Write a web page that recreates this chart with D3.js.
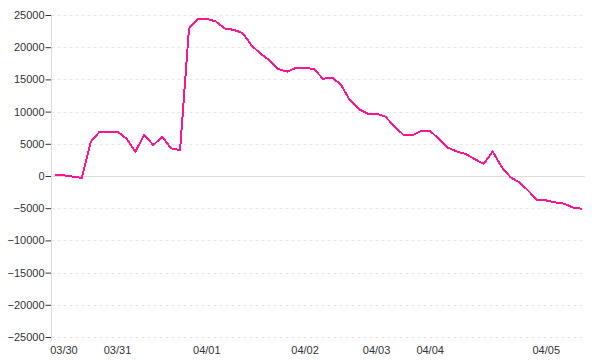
<!DOCTYPE html>
<html>
<head>
<meta charset="utf-8">
<script src="https://cdn.jsdelivr.net/npm/d3@7"></script>
<style>
  html, body { margin: 0; padding: 0; background: #fff; }
  #chart { width: 600px; height: 360px; }
</style>
</head>
<body>
<div id="chart"></div>
<script>
// Values per sample point (left to right)
const values = [
    100, 100, -100, -300, 5300, 6900, 6900, 6900, 5800, 3800,
    6400, 4800, 6100, 4300, 4000, 22900, 24400, 24400, 24000, 22900,
    22700, 22200, 20300, 19000, 18000, 16600, 16200, 16800, 16800, 16600,
    15100, 15300, 14200, 11800, 10400, 9700, 9700, 9200, 7700, 6400,
    6300, 7000, 7000, 5700, 4400, 3800, 3400, 2600, 1900, 3800,
    1400, -200, -1000, -2300, -3800, -3800, -4100, -4300, -4900, -5100
];

// Date labels and the sample index where each date starts
const dateLabels = ['03/30', '03/31', '04/01', '04/02', '04/03', '04/04', '04/05'];
const dateIndex = [1, 7, 17, 28, 36, 42, 55];

const yTicks = [25000, 20000, 15000, 10000, 5000, 0, -5000, -10000, -15000, -20000, -25000];

const config = {
    width: 600,
    height: 360,
    axisX: 51.5,
    plotLeft: 55,
    plotRight: 582,
    gridRight: 585,
    lineColor: '#ff1493',
    textColor: '#333'
};

const svg = d3.select('#chart')
    .append('svg')
    .attr('width', config.width)
    .attr('height', config.height)
    .style('font-family', '"Liberation Sans", Arial, sans-serif')
    .style('font-size', '11px');

const xScale = d3.scaleLinear()
    .domain([0, values.length - 1])
    .range([config.plotLeft, config.plotRight]);

const yScale = d3.scaleLinear()
    .domain([-25000, 25000])
    .range([337, 15]);

// Grid lines
svg.append('g')
    .selectAll('line')
    .data(yTicks)
    .enter().append('line')
    .attr('x1', config.axisX)
    .attr('x2', config.gridRight)
    .attr('y1', d => Math.round(yScale(d)) + 0.5)
    .attr('y2', d => Math.round(yScale(d)) + 0.5)
    .style('stroke', d => d === 0 ? '#dcdcdc' : '#e6e6e6')
    .style('stroke-dasharray', d => d === 0 ? null : '3,3')
    .style('stroke-width', 1);

// Y axis
const yAxis = svg.append('g')
    .attr('transform', `translate(${config.axisX},0)`)
    .call(d3.axisLeft(yScale).tickValues(yTicks).tickSize(6).tickPadding(1).tickFormat(d3.format('d')));

yAxis.select('.domain').remove();
yAxis.selectAll('.tick line').style('stroke', '#333');
yAxis.selectAll('.tick text')
    .style('fill', config.textColor)
    .style('font-family', '"Liberation Sans", Arial, sans-serif')
    .style('font-size', '11px');

svg.append('line')
    .attr('x1', config.axisX)
    .attr('x2', config.axisX)
    .attr('y1', 15)
    .attr('y2', 341)
    .style('stroke', '#dcdcdc');

// X labels
svg.append('g')
    .selectAll('text')
    .data(dateLabels)
    .enter().append('text')
    .attr('x', (d, i) => xScale(dateIndex[i]))
    .attr('y', 354)
    .attr('text-anchor', 'middle')
    .style('fill', config.textColor)
    .text(d => d);

// Line
const line = d3.line()
    .x((d, i) => xScale(i))
    .y(d => yScale(d));

svg.append('path')
    .datum(values)
    .attr('d', line)
    .style('fill', 'none')
    .style('stroke', config.lineColor)
    .style('stroke-width', 2)
    .style('stroke-linejoin', 'round')
    .style('shape-rendering', 'crispEdges');
</script>
</body>
</html>
